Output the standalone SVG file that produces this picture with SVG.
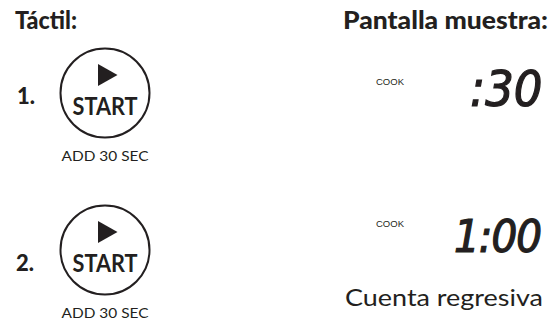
<svg xmlns="http://www.w3.org/2000/svg" width="556" height="322" viewBox="0 0 556 322">
<style>
.h{font-family:"Lato","Liberation Sans",sans-serif;font-weight:900;fill:#231f20}
.num{font-family:"Lato","Liberation Sans",sans-serif;font-weight:900;font-size:22px;fill:#231f20}
.btn{fill:none;stroke:#231f20;stroke-width:2}
.st{font-family:"Lato","Liberation Sans",sans-serif;font-weight:bold;font-size:25px;fill:#231f20;text-anchor:middle}
.add{font-family:"Lato","Liberation Sans",sans-serif;font-size:13px;fill:#231f20;text-anchor:middle}
.cook{font-family:"Liberation Sans",Arial,sans-serif;font-size:8.5px;fill:#231f20}
.lcd{font-family:"DejaVu Sans Condensed","DejaVu Sans",sans-serif;font-style:oblique;fill:#231f20;stroke:#231f20;stroke-width:1.2}
.cap{font-family:"Lato","Liberation Sans",sans-serif;font-size:23px;fill:#231f20}
</style>
<rect width="556" height="322" fill="#ffffff"/>
<g id="header-tactil"><text class="h" x="15" y="29" font-size="25" textLength="62" lengthAdjust="spacingAndGlyphs">Táctil:</text></g>
<g id="header-pantalla"><text class="h" x="343" y="29" font-size="25" textLength="205" lengthAdjust="spacingAndGlyphs">Pantalla muestra:</text></g>
<g id="step1">
<text class="num" x="17" y="104">1.</text>
<circle class="btn" cx="105" cy="93" r="44.5"/>
<polygon points="98,64 117.5,75 98,86" fill="#231f20"/>
<text class="st" x="105" y="115" textLength="65" lengthAdjust="spacingAndGlyphs">START</text>
<text class="add" x="105" y="161" textLength="87" lengthAdjust="spacingAndGlyphs">ADD 30 SEC</text>
</g>
<g id="step2">
<text class="num" x="16" y="271">2.</text>
<circle class="btn" cx="105" cy="250" r="44.5"/>
<polygon points="98,221 117.5,232 98,243" fill="#231f20"/>
<text class="st" x="105" y="272" textLength="65" lengthAdjust="spacingAndGlyphs">START</text>
<text class="add" x="105" y="318" textLength="87" lengthAdjust="spacingAndGlyphs">ADD 30 SEC</text>
</g>
<g id="display1">
<text class="cook" x="376" y="84.5" textLength="28" lengthAdjust="spacingAndGlyphs">COOK</text>
<text class="lcd" x="470" y="106" font-size="50" letter-spacing="0">:30</text>
</g>
<g id="display2">
<text class="cook" x="376" y="227" textLength="28" lengthAdjust="spacingAndGlyphs">COOK</text>
<text class="lcd" x="454" y="252" font-size="45" letter-spacing="-1">1:00</text>
</g>
<g id="caption"><text class="cap" x="345" y="306" textLength="198" lengthAdjust="spacingAndGlyphs">Cuenta regresiva</text></g>
<g id="connectors"></g>
</svg>
